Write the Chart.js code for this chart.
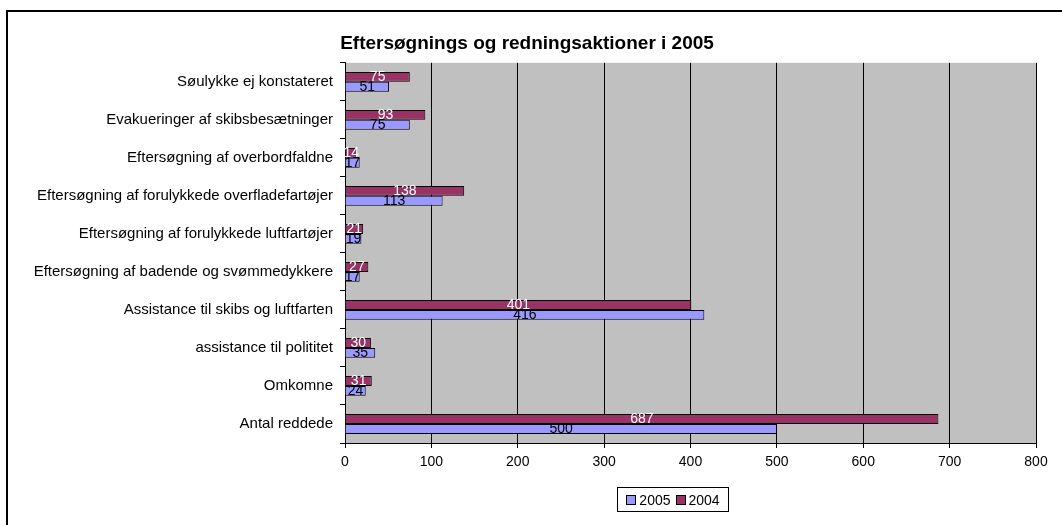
<!DOCTYPE html>
<html>
<head>
<meta charset="utf-8">
<script src="https://cdn.jsdelivr.net/npm/chart.js@4/dist/chart.umd.min.js"></script>
<style>
  html, body { margin: 0; padding: 0; background: #fff; overflow: hidden; }
  #wrap { position: relative; width: 1062px; height: 525px; }
  #frame { position: absolute; left: 6px; top: 10px; width: 1100px; height: 600px; border: 2px solid #000; box-sizing: border-box; }
  #legend { position: absolute; left: 617px; top: 487px; width: 112px; height: 25px; border: 1px solid #000; box-sizing: border-box;
    font: 14px "Liberation Sans", Arial, sans-serif; color: #000; display: flex; align-items: center; justify-content: center; gap: 5px; }
  #legend span.box { display: inline-block; width: 8px; height: 8px; border: 1px solid #000; margin-right: 3px; vertical-align: 0px; }
</style>
</head>
<body>
<div id="wrap">
  <div id="frame"></div>
  <canvas id="chart" width="1062" height="525"></canvas>
  <div id="legend"></div>
</div>
<script>
(function() {
  'use strict';

  var categories = [
    'Søulykke ej konstateret',
    'Evakueringer af skibsbesætninger',
    'Eftersøgning af overbordfaldne',
    'Eftersøgning af forulykkede overfladefartøjer',
    'Eftersøgning af forulykkede luftfartøjer',
    'Eftersøgning af badende og svømmedykkere',
    'Assistance til skibs og luftfarten',
    'assistance til polititet',
    'Omkomne',
    'Antal reddede'
  ];
  var values2005 = [51, 75, 17, 113, 19, 17, 416, 35, 24, 500];
  var values2004 = [75, 93, 14, 138, 21, 27, 401, 30, 31, 687];
  var xTicks = [0, 100, 200, 300, 400, 500, 600, 700, 800];

  var FONT = '"Liberation Sans", Arial, sans-serif';
  var COLOR_2005 = '#9999FF';
  var COLOR_2004 = '#993366';

  // gray plot area behind the bars
  var plotBackground = {
    id: 'plotBackground',
    beforeDraw: function(chart) {
      var a = chart.chartArea;
      var ctx = chart.ctx;
      ctx.save();
      ctx.fillStyle = '#C0C0C0';
      ctx.fillRect(a.left, a.top, a.right - a.left, a.bottom - a.top);
      ctx.restore();
    }
  };

  // value labels centred on each bar
  var barLabels = {
    id: 'barLabels',
    afterDatasetsDraw: function(chart) {
      var ctx = chart.ctx;
      ctx.save();
      ctx.font = '14px ' + FONT;
      ctx.textAlign = 'center';
      ctx.textBaseline = 'middle';
      chart.data.datasets.forEach(function(ds, i) {
        var meta = chart.getDatasetMeta(i);
        ctx.fillStyle = ds.labelColor;
        meta.data.forEach(function(bar, j) {
          var cx = (bar.x + bar.base) / 2;
          ctx.fillText(String(ds.data[j]), cx, bar.y);
        });
      });
      ctx.restore();
    }
  };

  var ctx = document.getElementById('chart').getContext('2d');
  var chart = new Chart(ctx, {
    type: 'bar',
    data: {
      labels: categories,
      datasets: [{
        label: '2004',
        data: values2004,
        backgroundColor: COLOR_2004,
        borderColor: '#000',
        borderWidth: 1,
        labelColor: '#fff'
      }, {
        label: '2005',
        data: values2005,
        backgroundColor: COLOR_2005,
        borderColor: '#000',
        borderWidth: 1,
        labelColor: '#000'
      }]
    },
    options: {
      indexAxis: 'y',
      responsive: false,
      animation: false,
      devicePixelRatio: 1,
      categoryPercentage: 0.52,
      barPercentage: 1.0,
      layout: {
        padding: { left: 18, right: 26, top: 0, bottom: 52 }
      },
      plugins: {
        legend: { display: false },
        tooltip: { enabled: false },
        title: {
          display: true,
          text: 'Eftersøgnings og redningsaktioner i 2005',
          color: '#000',
          font: { family: FONT, size: 19, weight: 'bold' },
          padding: { top: 32, bottom: 8 }
        }
      },
      scales: {
        x: {
          min: 0,
          max: 800,
          afterBuildTicks: function(scale) {
            scale.ticks = xTicks.map(function(v) { return { value: v }; });
          },
          afterFit: function(scale) { scale.height = 30; },
          border: { color: '#000', width: 1 },
          grid: { color: '#000', lineWidth: 1, tickLength: 5, drawTicks: true },
          ticks: { color: '#000', font: { family: FONT, size: 14 }, padding: 6 }
        },
        y: {
          afterFit: function(scale) { scale.width = 327; },
          border: { color: '#000', width: 1 },
          grid: { display: true, drawOnChartArea: false, offset: true, color: '#000', tickLength: 5 },
          ticks: { color: '#000', font: { family: FONT, size: 15 }, padding: 7, autoSkip: false }
        }
      }
    },
    plugins: [plotBackground, barLabels]
  });

  // legend in the order of the original: 2005 first
  var legend = document.getElementById('legend');
  [['2005', COLOR_2005], ['2004', COLOR_2004]].forEach(function(item) {
    var el = document.createElement('span');
    el.innerHTML = '<span class="box" style="background:' + item[1] + '"></span>' + item[0];
    legend.appendChild(el);
  });
}());
</script>
</body>
</html>
